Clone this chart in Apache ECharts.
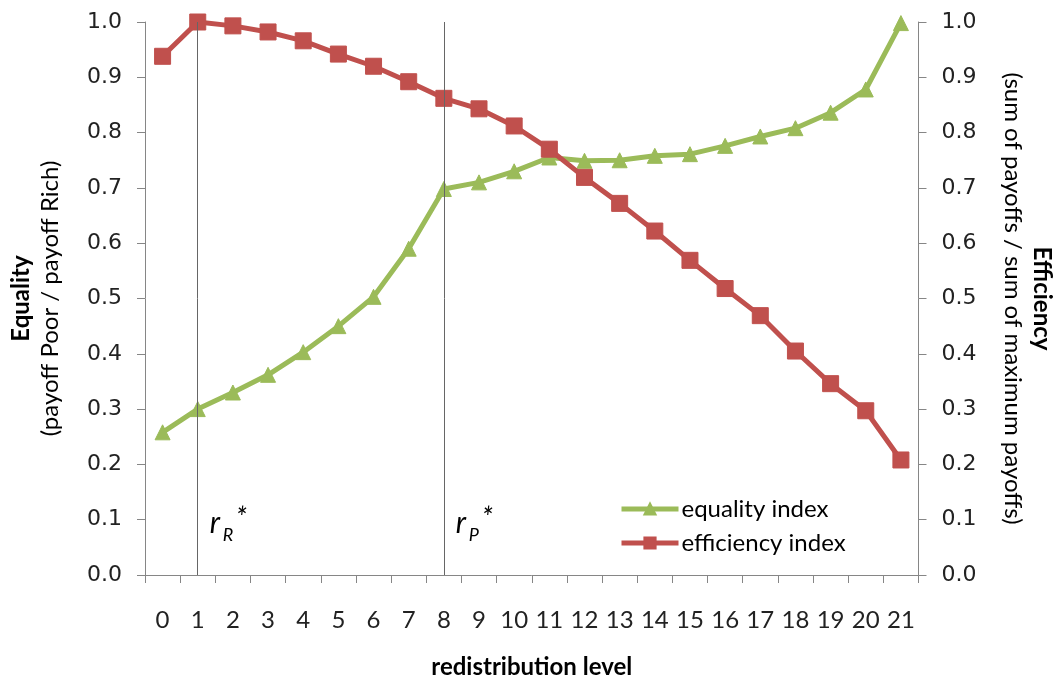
<!DOCTYPE html>
<html>
<head>
<meta charset="utf-8">
<script src="https://cdn.jsdelivr.net/npm/echarts@6/dist/echarts.min.js"></script>
<style>
html,body{margin:0;padding:0;background:#fff;}
#chart{width:1062px;height:684px;}
</style>
</head>
<body>
<div id="chart"></div>
<script>
const categories = ['0','1','2','3','4','5','6','7','8','9','10','11','12','13','14','15','16','17','18','19','20','21'];
const equalityIndex = [0.258,0.300,0.330,0.362,0.403,0.450,0.503,0.590,0.698,0.710,0.730,0.755,0.749,0.750,0.758,0.761,0.776,0.793,0.808,0.836,0.878,0.998];
const efficiencyIndex = [0.938,1.000,0.993,0.982,0.966,0.942,0.920,0.892,0.862,0.843,0.812,0.770,0.719,0.672,0.622,0.569,0.518,0.469,0.405,0.346,0.297,0.208];
const markers = [
  {cat: '1', main: 'r', sub: 'R'},
  {cat: '8', main: 'r', sub: 'P'}
];

const GREEN = '#9BBB59';
const RED = '#C0504D';
const AXIS = '#868686';
const LBL = '#222';

const chart = echarts.init(document.getElementById('chart'), null, {renderer: 'canvas'});

const yAxisCommon = {
  type: 'value', min: 0, max: 1, interval: 0.1,
  axisLine: {show: true, lineStyle: {color: AXIS, width: 1}},
  axisTick: {show: true, length: 8, lineStyle: {color: AXIS}},
  splitLine: {show: false},
  axisLabel: {fontFamily: '"DejaVu Sans", Verdana, sans-serif', fontSize: 22, color: LBL, margin: 23,
    formatter: v => v.toFixed(1)},
  nameLocation: 'middle',
  nameGap: 80,
  nameTextStyle: {
    color: '#000',
    rich: {
      b: {fontFamily: 'Lato', fontWeight: 'bold', fontSize: 24, lineHeight: 29, color: '#000'},
      n: {fontFamily: 'Lato', fontSize: 24, lineHeight: 29, color: '#000'}
    }
  }
};

chart.setOption({
  animation: false,
  backgroundColor: '#fff',
  grid: {left: 145, right: 138, top: 22, bottom: 104, containLabel: false},
  legend: {
    orient: 'vertical', left: 614, top: 492, itemWidth: 57, itemHeight: 14, itemGap: 10,
    lineStyle: {width: 5},
    textStyle: {fontFamily: 'Lato', fontSize: 24, color: '#000', padding: [0,0,0,-2]},
    data: ['equality index', 'efficiency index']
  },
  xAxis: {
    type: 'category', data: categories, boundaryGap: true,
    name: 'redistribution level', nameLocation: 'middle', nameGap: 80,
    nameTextStyle: {fontFamily: 'Lato', fontWeight: 'bold', fontSize: 24, color: '#000'},
    axisLine: {show: true, lineStyle: {color: AXIS, width: 1}},
    axisTick: {show: true, length: 8, alignWithLabel: false, lineStyle: {color: AXIS}},
    axisLabel: {fontFamily: 'Lato', fontSize: 24, color: LBL, margin: 33, interval: 0},
    splitLine: {show: false}
  },
  yAxis: [
    Object.assign({}, yAxisCommon, {
      position: 'left', nameRotate: 90,
      name: '{b|Equality}\n{n|(payoff Poor / payoff Rich)}'
    }),
    Object.assign({}, yAxisCommon, {
      position: 'right', nameRotate: -90,
      name: '{b|Efficiency}\n{n|(sum of payoffs / sum of maximum payoffs)}'
    })
  ],
  series: [
    {
      name: 'equality index', type: 'line', data: equalityIndex, yAxisIndex: 0,
      symbol: 'triangle', symbolSize: 15,
      lineStyle: {color: GREEN, width: 5},
      itemStyle: {color: GREEN, borderColor: GREEN, borderWidth: 1},
      z: 3,
      markLine: {
        silent: true, symbol: 'none', animation: false,
        lineStyle: {color: '#666', width: 1, type: 'solid'},
        label: {show: false},
        data: markers.map(m => ({xAxis: m.cat}))
      }
    },
    {
      name: 'efficiency index', type: 'line', data: efficiencyIndex, yAxisIndex: 1,
      symbol: 'rect', symbolSize: 16,
      lineStyle: {color: RED, width: 5},
      itemStyle: {color: RED, borderColor: RED, borderWidth: 1},
      z: 4
    }
  ]
});

// place r* annotations next to the marker lines, anchored via axis scales
const g = [];
markers.forEach(m => {
  const p = chart.convertToPixel({xAxisIndex: 0, yAxisIndex: 0}, [m.cat, 0]);
  const x = p[0];
  const y0 = chart.convertToPixel({yAxisIndex: 0}, 0.09);
  g.push({type: 'text', left: x + 12, top: y0 - 17, silent: true,
    style: {text: m.main, fontFamily: 'Lato', fontStyle: 'italic', fontSize: 30, fill: '#000'}});
  g.push({type: 'text', left: x + 25, top: y0 + 1, silent: true,
    style: {text: m.sub, fontFamily: 'Lato', fontStyle: 'italic', fontSize: 18, fill: '#000'}});
  g.push({type: 'text', left: x + 38, top: y0 - 20, silent: true,
    style: {text: '*', fontFamily: 'Lato', fontStyle: 'italic', fontSize: 28, fill: '#000'}});
});
chart.setOption({graphic: g});
</script>
</body>
</html>
